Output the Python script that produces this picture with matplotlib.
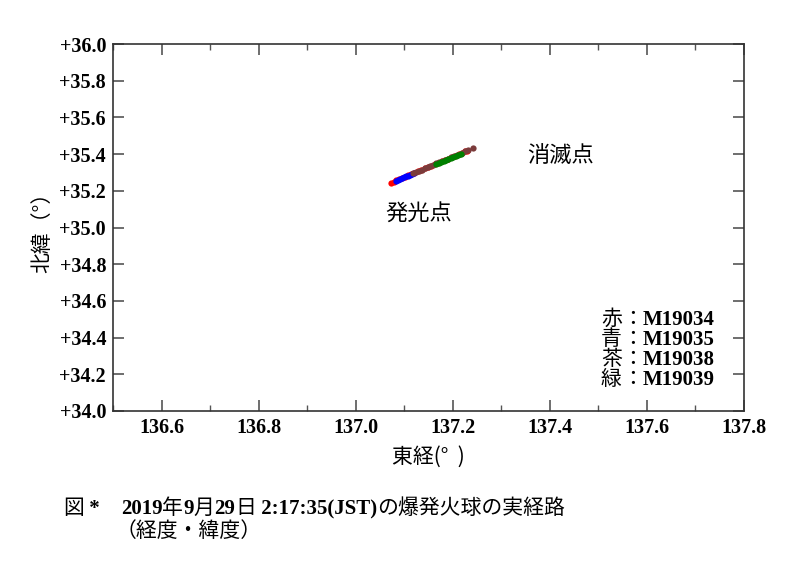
import matplotlib
matplotlib.use("Agg")
import matplotlib.pyplot as plt
from matplotlib.ticker import MultipleLocator, FuncFormatter
from matplotlib.transforms import IdentityTransform

plt.rcParams['font.family'] = ['Liberation Serif', 'Noto Sans CJK JP']

# ---- data ----
red_lon = [137.073, 137.078, 137.084, 137.090, 137.096, 137.102, 137.108, 137.114, 137.121,
           137.128, 137.135, 137.142, 137.149, 137.156, 137.163, 137.170, 137.177, 137.184,
           137.191, 137.198, 137.205, 137.212, 137.219, 137.226, 137.229]
red_lat = [35.245, 35.250, 35.257, 35.264, 35.270, 35.277, 35.284, 35.290, 35.298,
           35.306, 35.314, 35.322, 35.329, 35.337, 35.345, 35.353, 35.361, 35.368,
           35.376, 35.384, 35.392, 35.400, 35.407, 35.415, 35.419]
blue_lon = [137.084, 137.088, 137.092, 137.096, 137.100, 137.104, 137.108, 137.112, 137.116, 137.120]
blue_lat = [35.256, 35.260, 35.265, 35.269, 35.274, 35.278, 35.283, 35.287, 35.291, 35.295]
brown_lon = [137.118, 137.124, 137.130, 137.136, 137.142, 137.148, 137.154, 137.160, 137.166,
             137.172, 137.178, 137.184, 137.190, 137.196, 137.202, 137.208, 137.214, 137.220,
             137.226, 137.232, 137.242]
brown_lat = [35.296, 35.302, 35.309, 35.316, 35.322, 35.329, 35.335, 35.342, 35.349,
             35.355, 35.362, 35.369, 35.375, 35.382, 35.389, 35.395, 35.402, 35.408,
             35.415, 35.421, 35.432]
green_lon = [137.166, 137.171, 137.176, 137.181, 137.186, 137.191, 137.196, 137.201, 137.206,
             137.211, 137.216]
green_lat = [35.346, 35.351, 35.357, 35.363, 35.368, 35.374, 35.379, 35.385, 35.391,
             35.396, 35.402]

series_colors = ['#ff0000', '#0000ff', '#7b3b3b', '#008000']
legend_chars = ['赤', '青', '茶', '緑']
legend_ids = ['M19034', 'M19035', 'M19038', 'M19039']

x_ticks = [136.6, 136.8, 137.0, 137.2, 137.4, 137.6, 137.8]
y_ticks = [34.0, 34.2, 34.4, 34.6, 34.8, 35.0, 35.2, 35.4, 35.6, 35.8, 36.0]

fig = plt.figure(figsize=(8, 5.72), dpi=100)
W, H = 800, 572
L, R, T, B = 113, 744, 44, 411
ax = fig.add_axes([L / W, 1 - B / H, (R - L) / W, (B - T) / H])

for lon, lat, c in [(red_lon, red_lat, series_colors[0]),
                    (blue_lon, blue_lat, series_colors[1]),
                    (brown_lon, brown_lat, series_colors[2]),
                    (green_lon, green_lat, series_colors[3])]:
    ax.plot(lon, lat, 'o', color=c, markersize=4.5, markeredgewidth=0, zorder=3)

ax.set_xlim(136.5, 137.8)
ax.set_ylim(34.0, 36.0)
ax.set_xticks(x_ticks)
ax.set_yticks(y_ticks)
ax.xaxis.set_minor_locator(MultipleLocator(0.1))
ax.xaxis.set_major_formatter(FuncFormatter(lambda v, p: f"{v:.1f}"))
ax.yaxis.set_major_formatter(FuncFormatter(lambda v, p: f"+{v:.1f}"))
ax.tick_params(which='both', direction='in', top=True, right=True, color='#555555')
ax.tick_params(which='major', length=8, width=1.2, labelsize=14.5, pad=5)
ax.tick_params(which='minor', length=4, width=1.0)
for lab in ax.get_xticklabels() + ax.get_yticklabels():
    lab.set_fontweight('bold')
    lab.set_family('Liberation Serif')
for s in ax.spines.values():
    s.set_color('#333333')
    s.set_linewidth(1.2)

ax.set_xlabel('東経(°  )', fontsize=15, family=['Noto Sans CJK JP'], labelpad=6)
ax.set_ylabel('北緯（°）', fontsize=15, family=['Noto Sans CJK JP'], labelpad=4)

ax.text(137.062, 35.07, '発光点', fontsize=16, family=['Noto Sans CJK JP'], va='center', ha='left')
ax.text(137.353, 35.39, '消滅点', fontsize=16, family=['Noto Sans CJK JP'], va='center', ha='left')

renderer = fig.canvas.get_renderer()

def mixed(x, y, parts, size):
    """draw parts consecutively at pixel coords (x from left, y from top, baseline)"""
    for s, fam, wt in parts:
        t = fig.text(x, H - y, s, fontsize=size, family=fam, weight=wt,
                     va='baseline', ha='left', transform=IdentityTransform())
        bb = t.get_window_extent(renderer)
        x = bb.x1

CJK = ['Noto Sans CJK JP']
SER = ['Liberation Serif']

for i, (ch, mid) in enumerate(zip(legend_chars, legend_ids)):
    mixed(601, 325 + 20 * i, [(ch, CJK, 'normal'), ('：', CJK, 'normal'), (mid, SER, 'bold')], 15)

mixed(63, 514, [('図', CJK, 'normal'), (' *    ', SER, 'bold'), ('2019', SER, 'bold'), ('年', CJK, 'normal'),
                ('9', SER, 'bold'), ('月', CJK, 'normal'), ('29', SER, 'bold'), ('日', CJK, 'normal'),
                (' 2:17:35(JST)', SER, 'bold'), ('の爆発火球の実経路', CJK, 'normal')], 15)
mixed(116, 537, [('（経度・緯度）', CJK, 'normal')], 15)

fig.savefig('out.png', dpi=100)
